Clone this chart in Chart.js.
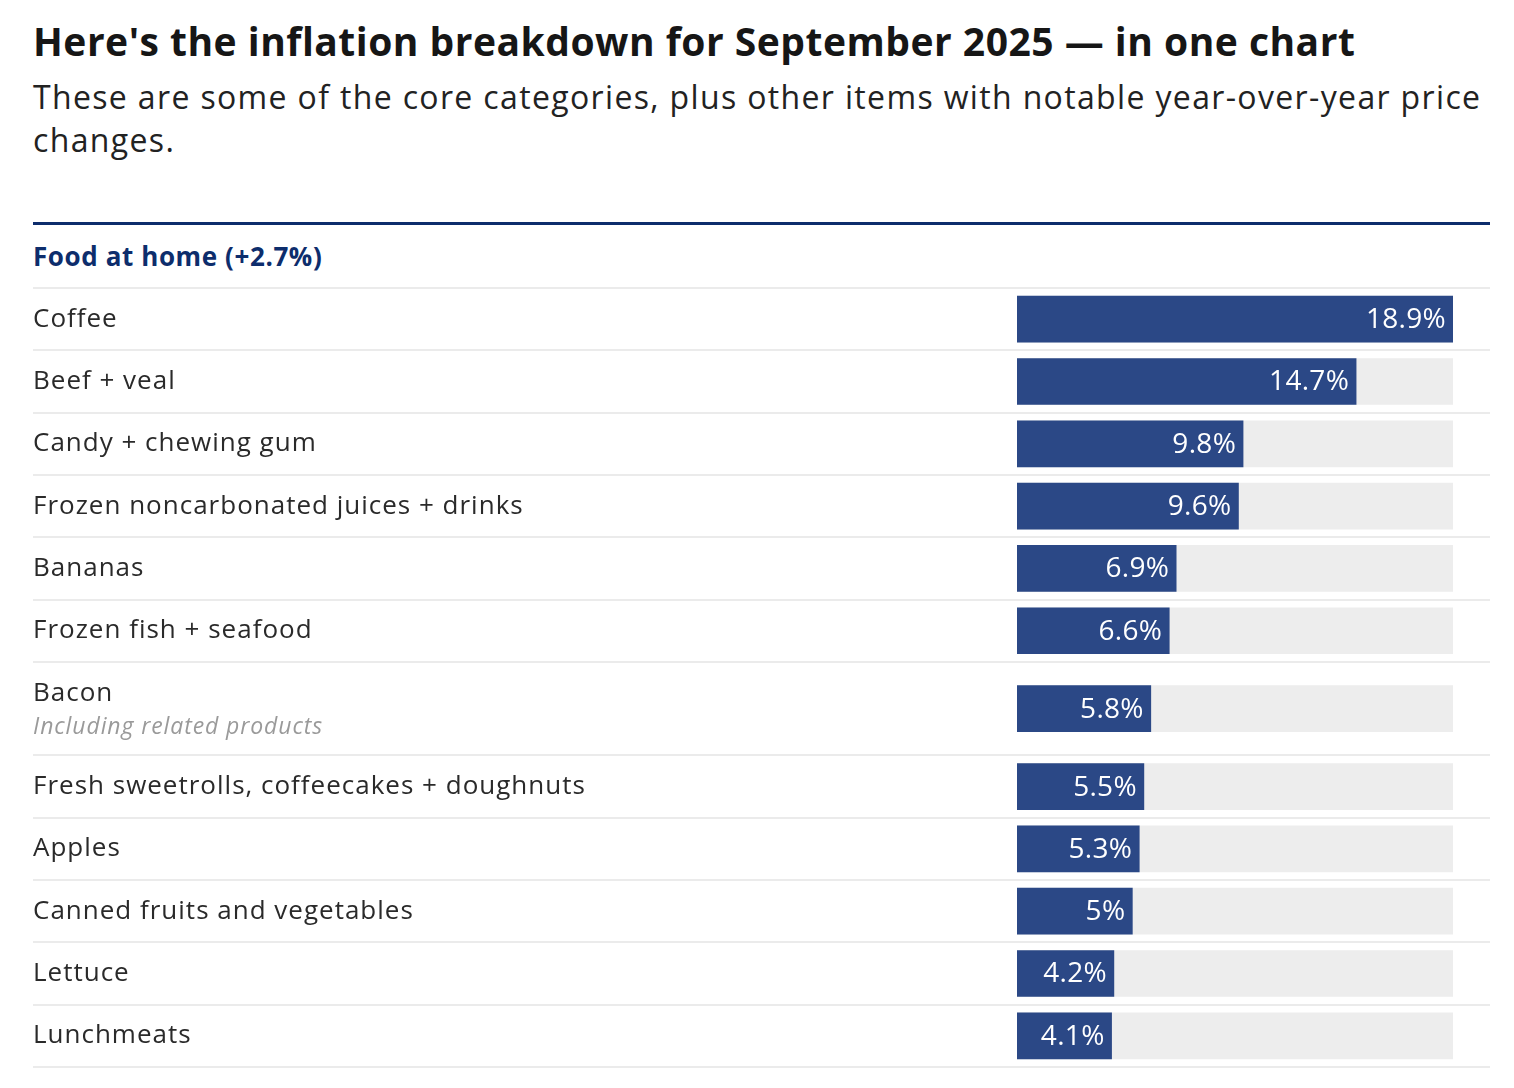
<!DOCTYPE html>
<html>
<head>
<meta charset="utf-8">
<script src="https://cdn.jsdelivr.net/npm/chart.js@4"></script>
<style>
  html, body { margin: 0; padding: 0; background: #fff; }
  body { width: 1514px; height: 1088px; position: relative; overflow: hidden; font-family: "Open Sans", Lato, sans-serif; color: #1a1a1a; }
  #title { position: absolute; left: 33px; top: 17px; font-size: 39px; line-height: 48px; font-weight: 700; color: #161616; white-space: nowrap; letter-spacing: 0.5px; }
  #subtitle { position: absolute; left: 33px; top: 75px; width: 1462px; font-size: 32px; line-height: 43px; color: #222; letter-spacing: 1.35px; }
  #rule { position: absolute; left: 33px; top: 222px; width: 1457px; height: 3px; background: #0d2d6c; }
  #group { position: absolute; left: 33px; top: 240px; font-size: 26px; line-height: 32px; font-weight: 700; color: #0d2d6c; letter-spacing: 0.6px; }
  #wrap { position: absolute; left: 33px; top: 286px; width: 1457px; height: 783px; }
</style>
</head>
<body>
<div id="title">Here's the inflation breakdown for September 2025 — in one chart</div>
<div id="subtitle">These are some of the core categories, plus other items with notable year-over-year price changes.</div>
<div id="rule"></div>
<div id="group">Food at home (+2.7%)</div>
<div id="wrap"><canvas id="myChart"></canvas></div>
<script>
const categories = [
  'Coffee',
  'Beef + veal',
  'Candy + chewing gum',
  'Frozen noncarbonated juices + drinks',
  'Bananas',
  'Frozen fish + seafood',
  'Bacon',
  'Fresh sweetrolls, coffeecakes + doughnuts',
  'Apples',
  'Canned fruits and vegetables',
  'Lettuce',
  'Lunchmeats'
];
const notes = ['', '', '', '', '', '', 'Including related products', '', '', '', '', ''];
const values = [18.9, 14.7, 9.8, 9.6, 6.9, 6.6, 5.8, 5.5, 5.3, 5.0, 4.2, 4.1];
const valueLabels = ['18.9%', '14.7%', '9.8%', '9.6%', '6.9%', '6.6%', '5.8%', '5.5%', '5.3%', '5%', '4.2%', '4.1%'];

// rows with a note line are taller
const rowUnits = notes.map(n => n ? 1.5 : 1);
const bounds = [0];
rowUnits.forEach(u => bounds.push(bounds[bounds.length - 1] + u));
const centers = rowUnits.map((u, i) => bounds[i] + u / 2);
const trackMax = Math.max(...values);

const font = '"Open Sans", Lato, sans-serif';

const rowsPlugin = {
  id: 'rows',
  beforeDatasetsDraw(chart) {
    const c = chart.ctx, y = chart.scales.y;
    c.save();
    c.strokeStyle = '#ebebeb';
    c.lineWidth = 2;
    bounds.forEach(b => {
      const py = Math.round(y.getPixelForValue(b));
      c.beginPath();
      c.moveTo(0, py);
      c.lineTo(chart.width, py);
      c.stroke();
    });
    c.textBaseline = 'middle';
    c.textAlign = 'left';
    categories.forEach((name, i) => {
      const py = y.getPixelForValue(centers[i]);
      c.fillStyle = '#2a2a2a';
      c.font = '26px ' + font;
      c.letterSpacing = '1px';
      if (notes[i]) {
        c.fillText(name, 0, py - 15);
        c.fillStyle = '#9a9a9a';
        c.font = 'italic 23px ' + font;
        c.letterSpacing = '0.9px';
        c.fillText(notes[i], 0, py + 19);
      } else {
        c.fillText(name, 0, py);
      }
    });
    c.restore();
  },
  afterDatasetsDraw(chart) {
    const c = chart.ctx;
    const meta = chart.getDatasetMeta(1);
    c.save();
    c.fillStyle = '#fff';
    c.font = '500 28px ' + font;
    c.letterSpacing = '0.3px';
    c.textAlign = 'right';
    c.textBaseline = 'middle';
    meta.data.forEach((bar, i) => {
      c.fillText(valueLabels[i], bar.x - 7, bar.y + 1);
    });
    c.restore();
  }
};

new Chart(document.getElementById('myChart'), {
  type: 'bar',
  data: {
    datasets: [
      {
        label: 'track',
        data: centers.map(y => ({ x: trackMax, y: y })),
        backgroundColor: '#ededed',
        order: 2
      },
      {
        label: 'Change',
        data: values.map((v, i) => ({ x: v, y: centers[i] })),
        backgroundColor: '#2b4886',
        order: 1
      }
    ]
  },
  options: {
    indexAxis: 'y',
    responsive: true,
    maintainAspectRatio: false,
    animation: false,
    grouped: false,
    barThickness: 46,
    layout: { padding: { left: 984, right: 37, top: 2, bottom: 2 } },
    scales: {
      x: { type: 'linear', min: 0, max: trackMax, display: false },
      y: { type: 'linear', min: 0, max: bounds[bounds.length - 1], reverse: true, offset: false, display: false }
    },
    plugins: {
      legend: { display: false },
      tooltip: { enabled: false }
    }
  },
  plugins: [rowsPlugin]
});
</script>
</body>
</html>
